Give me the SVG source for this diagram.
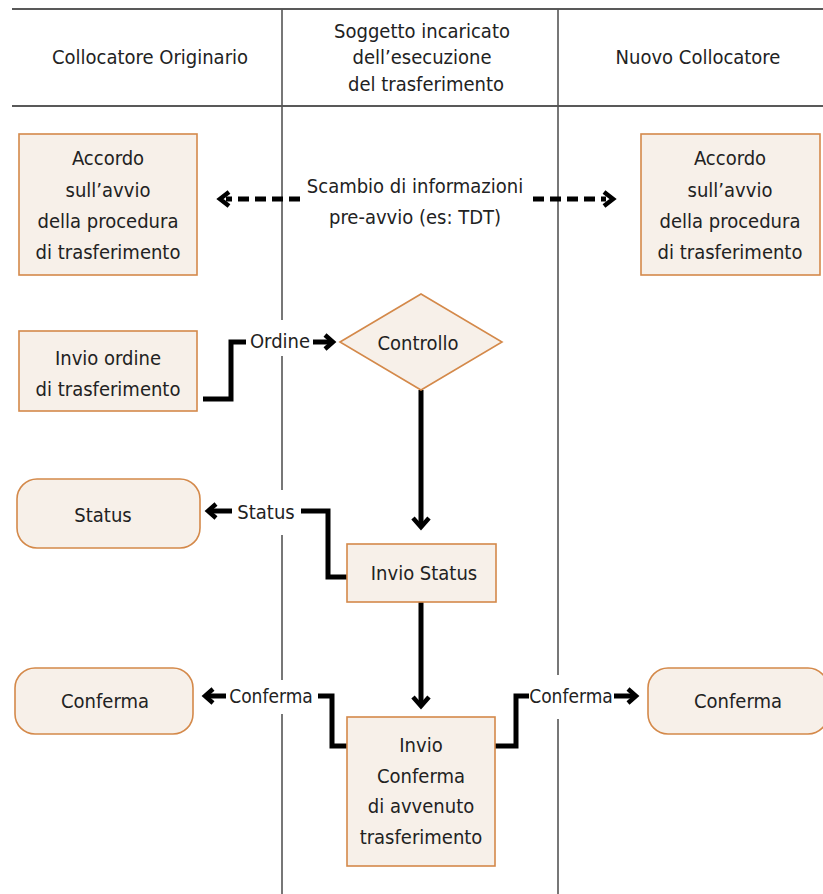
<svg xmlns="http://www.w3.org/2000/svg" width="823" height="894" viewBox="0 0 823 894">
<style>
text{font-family:"Liberation Sans Narrow","DejaVu Sans Condensed","Roboto Condensed",sans-serif;fill:#222;text-anchor:middle}
.h{font-size:20px}
.n{font-size:20px}
.l{font-size:20px}
.s{font-size:19px}
.box{fill:#f7f0e9;stroke:#d4894a;stroke-width:1.6}
.lane{stroke:#555;stroke-width:1.6;fill:none}
.rule{stroke:#222;stroke-width:1.6;fill:none}
.conn{stroke:#000;stroke-width:5;fill:none;stroke-linejoin:miter}
.head{stroke:#000;stroke-width:4.5;fill:none;stroke-linejoin:miter;stroke-linecap:butt}
.dash{stroke:#000;stroke-width:5;fill:none;stroke-dasharray:11 6}
.gap{fill:#fff}
</style>
<rect width="823" height="894" fill="#fff"/>
<g id="lanes">
<line class="rule" x1="12" y1="9" x2="823" y2="9"/>
<line class="rule" x1="12" y1="106" x2="823" y2="106"/>
<line class="lane" x1="282" y1="9" x2="282" y2="894"/>
<line class="lane" x1="558" y1="9" x2="558" y2="894"/>
<text class="h" x="150" y="64">Collocatore Originario</text>
<text class="h" x="422" y="38">Soggetto incaricato</text>
<text class="h" x="422" y="64">dell’esecuzione</text>
<text class="h" x="426" y="91">del trasferimento</text>
<text class="h" x="698" y="64">Nuovo Collocatore</text>
</g>
<g id="connectors">
<rect class="gap" x="246" y="320" width="66" height="36"/>
<rect class="gap" x="235" y="490" width="62" height="45"/>
<rect class="gap" x="228" y="680" width="86" height="34"/>
<rect class="gap" x="528" y="675" width="86" height="44"/>
<path class="dash" d="M300,199 H226"/>
<polyline class="head" points="229,192 220,199 229,206"/>
<path class="dash" d="M533,199 H606"/>
<polyline class="head" points="604,192 613,199 604,206"/>
<text class="l" x="415" y="193">Scambio di informazioni</text>
<text class="l" x="415" y="224">pre-avvio (es: TDT)</text>
<path class="conn" d="M203,399 H231 V342 H246"/>
<text class="l" x="280" y="348">Ordine</text>
<path class="conn" d="M313,342 H331"/>
<polyline class="head" points="325,335 333,342 325,349"/>
<path class="conn" d="M421,390 V527"/>
<polyline class="head" points="413,518 421,527 429,518"/>
<path class="conn" d="M347,577 H328 V511 H301"/>
<text class="l" x="266" y="519">Status</text>
<path class="conn" d="M232,511 H209"/>
<polyline class="head" points="216,504 208,511 216,518"/>
<path class="conn" d="M421,602 V706"/>
<polyline class="head" points="413,697 421,706 429,697"/>
<path class="conn" d="M347,746 H332 V696 H318"/>
<text class="s" x="271" y="703">Conferma</text>
<path class="conn" d="M226,696 H206"/>
<polyline class="head" points="213,689 205,696 213,703"/>
<path class="conn" d="M495,746 H516 V696 H529"/>
<text class="s" x="571" y="703">Conferma</text>
<path class="conn" d="M614,696 H634"/>
<polyline class="head" points="628,689 636,696 628,703"/>
</g>
<g id="accordo-left">
<rect class="box" x="19" y="134" width="178" height="141"/>
<text class="n" x="108" y="165">Accordo</text>
<text class="n" x="108" y="197">sull’avvio</text>
<text class="n" x="108" y="228">della procedura</text>
<text class="n" x="108" y="259">di trasferimento</text>
</g>
<g id="accordo-right">
<rect class="box" x="641" y="134" width="179" height="141"/>
<text class="n" x="730" y="165">Accordo</text>
<text class="n" x="730" y="197">sull’avvio</text>
<text class="n" x="730" y="228">della procedura</text>
<text class="n" x="730" y="259">di trasferimento</text>
</g>
<g id="invio-ordine">
<rect class="box" x="19" y="331" width="178" height="80"/>
<text class="n" x="108" y="365">Invio ordine</text>
<text class="n" x="108" y="396">di trasferimento</text>
</g>
<g id="controllo">
<polygon class="box" points="340,342 421,294 502,342 421,390"/>
<text class="n" x="418" y="350">Controllo</text>
</g>
<g id="status">
<rect class="box" x="17" y="479" width="183" height="69" rx="20"/>
<text class="n" x="103" y="522">Status</text>
</g>
<g id="invio-status">
<rect class="box" x="347" y="544" width="149" height="58"/>
<text class="n" x="424" y="580">Invio Status</text>
</g>
<g id="conferma-left">
<rect class="box" x="15" y="668" width="178" height="66" rx="20"/>
<text class="n" x="105" y="708">Conferma</text>
</g>
<g id="invio-conferma">
<rect class="box" x="347" y="717" width="148" height="149"/>
<text class="n" x="421" y="752">Invio</text>
<text class="n" x="421" y="783">Conferma</text>
<text class="n" x="421" y="813">di avvenuto</text>
<text class="n" x="421" y="844">trasferimento</text>
</g>
<g id="conferma-right">
<rect class="box" x="648" y="668" width="180" height="66" rx="20"/>
<text class="n" x="738" y="708">Conferma</text>
</g>
</svg>
